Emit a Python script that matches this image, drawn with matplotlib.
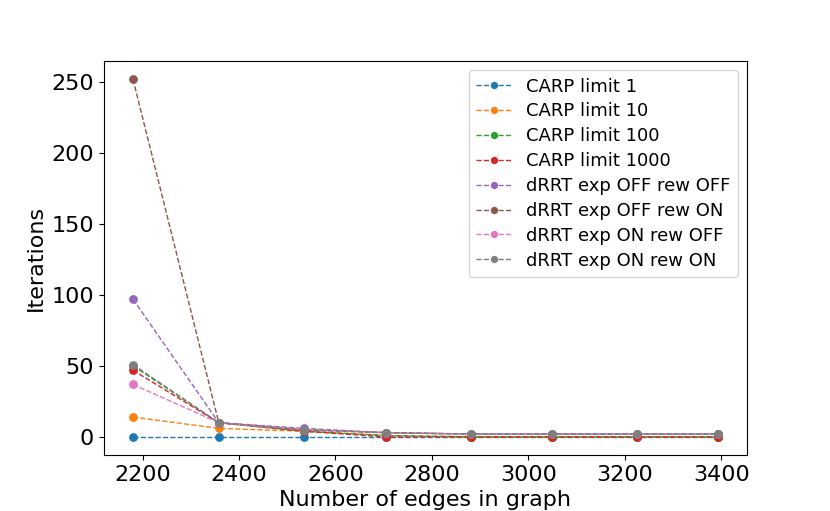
import numpy as np
import matplotlib
matplotlib.use('Agg')
import matplotlib.pyplot as plt

edges = [2180, 2358, 2535, 2704, 2882, 3050, 3226, 3393]

labels = ['CARP limit 1', 'CARP limit 10', 'CARP limit 100', 'CARP limit 1000',
          'dRRT exp OFF rew OFF', 'dRRT exp OFF rew ON',
          'dRRT exp ON rew OFF', 'dRRT exp ON rew ON']

carp_1 = [0, 0, 0, 0, 0, 0, 0, 0]
carp_10 = [14, 6, 4, 1, 0, 0, 0, 0]
carp_100 = [50, 10, 4, 1, 0, 0, 0, 0]
carp_1000 = [47, 10, 4, 0, 0, 0, 0, 0]
drrt_off_off = [97, 10, 6, 3, 2, 2, 2, 2]
drrt_off_on = [252, 10, 5, 3, 2, 2, 2, 2]
drrt_on_off = [37, 10, 5, 3, 2, 2, 2, 2]
drrt_on_on = [51, 10, 5, 3, 2, 2, 2, 2]

series = [carp_1, carp_10, carp_100, carp_1000,
          drrt_off_off, drrt_off_on, drrt_on_off, drrt_on_on]

fig, ax = plt.subplots(figsize=(8.3, 5.11), dpi=100)

for lab, ys in zip(labels, series):
    ax.plot(edges, ys, 'o--', label=lab, markersize=5.3, linewidth=1)

ax.set_xlabel('Number of edges in graph', fontsize=16)
ax.set_ylabel('Iterations', fontsize=16)
ax.tick_params(labelsize=16)
ax.legend(fontsize=13, labelspacing=0.38, markerscale=0.8)

fig.savefig('out.png')
